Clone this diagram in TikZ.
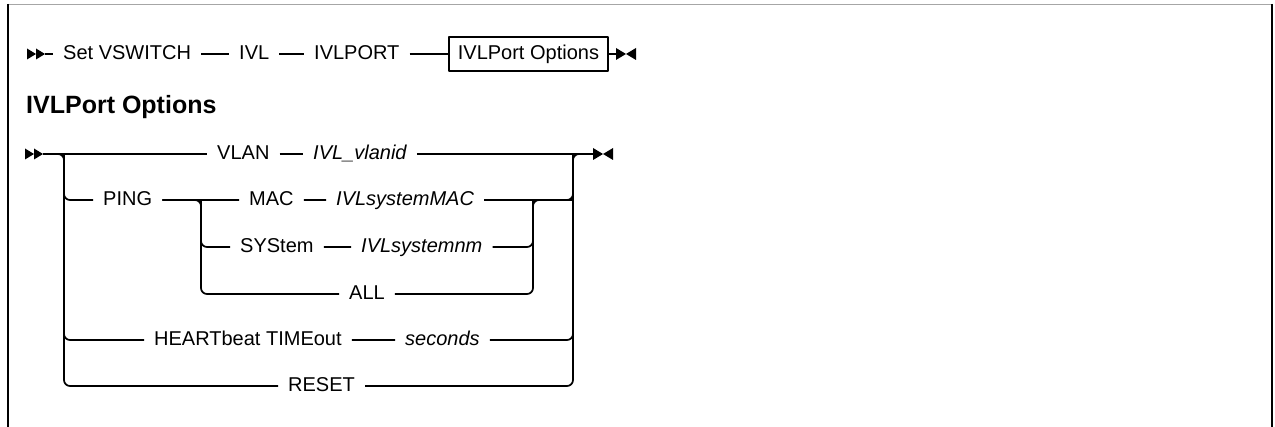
\documentclass[tikz,border=0pt]{standalone}
\usepackage{fontspec}
\setmainfont{Liberation Sans}
\usetikzlibrary{positioning}

\begin{document}
\begin{tikzpicture}[x=1pt,y=-1pt,line join=round,
  rail/.style={line width=1.7pt,rounded corners=6pt},
  kw/.style={inner xsep=10pt,inner ysep=0pt,text height=14pt,text depth=3pt,anchor=west,font=\fontsize{20}{24}\selectfont},
  var/.style={kw,font=\fontsize{20}{24}\selectfont\itshape},
  refbox/.style={kw,draw,line width=1.7pt,inner xsep=9pt,minimum height=34pt},
  pics/startmark/.style={code={
    \fill (-18,-5.5) -- (-9,0) -- (-18,5.5) -- cycle;
    \fill (-9,-5.5) -- (0,0) -- (-9,5.5) -- cycle;}},
  pics/endmark/.style={code={
    \fill (0,-6) -- (10,0) -- (0,6) -- cycle;
    \fill (20,-6) -- (10,0) -- (20,6) -- cycle;}}]
\useasboundingbox (0,0) rectangle (1275,427);
% frame
\draw[gray!70,line width=1.5pt] (8,4.5) -- (1272,4.5);
\draw[line width=2pt] (8,4) -- (8,427);
\draw[line width=2pt] (1272,4) -- (1272,427);

% main syntax line
\coordinate (s1) at (45,54);
\coordinate (e1) at (616,54);
\pic at (s1) {startmark};
\pic at (e1) {endmark};
\node[kw] (setvs) at (53,54) {Set VSWITCH};
\node[kw] (ivl) at (229,54) {IVL};
\node[kw] (ivlport) at (304,54) {IVLPORT};
\node[refbox] (opts) at (448,54) {IVLPort Options};
\draw[rail] (s1) -- (setvs) -- (ivl) -- (ivlport) -- (opts) -- (e1);

% fragment heading
\node[anchor=base west,inner sep=0pt,font=\fontsize{25}{29}\selectfont\bfseries] (hdr) at (26,114) {IVLPort Options};

% fragment
\coordinate (s2) at (43,154);
\coordinate (e2) at (593,154);
\coordinate (oL) at (64,154);
\coordinate (oR) at (573,154);
\coordinate (iL) at (201,200);
\coordinate (iR) at (533,200);
\pic at (s2) {startmark};
\pic at (e2) {endmark};
\node[kw] (vlan) at (207,154) {VLAN};
\node[var] (vlanid) at (303,154) {IVL\_vlanid};
\node[kw] (ping) at (93,200) {PING};
\node[kw] (mac) at (239,200) {MAC};
\node[var] (sysmac) at (326,200) {IVLsystemMAC};
\node[kw] (system) at (230,247) {SYStem};
\node[var] (sysnm) at (351,247) {IVLsystemnm};
\node[kw] (all) at (339,294) {ALL};
\node[kw] (hb) at (144,340) {HEARTbeat TIMEout};
\node[var] (secs) at (395,340) {seconds};
\node[kw] (reset) at (278,386) {RESET};

\draw[rail] (s2) -- (vlan) -- (vlanid) -- (e2);
\draw[rail] (s2) -| (oL |- reset) -- (reset) -| (oR) -- (e2);
\draw[rail] (oL) |- (ping);
\draw[rail] (ping) -- (mac) -- (sysmac) -| (oR);
\draw[rail] (ping) -| (iL |- all) -- (all) -| (iR) -- (oR |- iR);
\draw[rail] (iL) |- (system) -- (sysnm) -| (iR);
\draw[rail] (oL) |- (hb) -- (secs) -| (oR);
\end{tikzpicture}
\end{document}
